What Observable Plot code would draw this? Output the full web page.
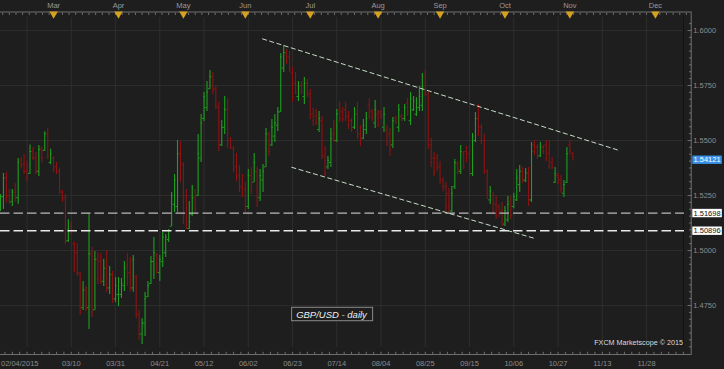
<!DOCTYPE html>
<html><head><meta charset="utf-8">
<script src="https://cdn.jsdelivr.net/npm/d3@7"></script>
<script src="https://cdn.jsdelivr.net/npm/@observablehq/plot@0.6"></script>
<style>html,body{margin:0;padding:0;background:#1e1e1e;overflow:hidden}</style>
</head><body><div id="chart"></div>
<script>
// Daily GBP/USD bars, one per trading day starting 02/04/2015 (bar index 0)
const opens = [
1.5190,1.5245,1.5330,1.5250,1.5222,1.5265,1.5240,1.5410,1.5390,1.5360,
1.5350,1.5450,1.5420,1.5360,1.5460,1.5455,1.5530,1.5400,1.5420,1.5380,
1.5360,1.5265,1.5240,1.5045,1.5110,1.5030,1.4990,1.4895,1.4740,1.4820,
1.4740,1.4985,1.4730,1.4960,1.4950,1.4860,1.4920,1.4830,1.4890,1.4780,
1.4800,1.4800,1.4840,1.4930,1.4900,1.4830,1.4880,1.4710,1.4620,1.4670,
1.4790,1.4850,1.4950,1.4980,1.4900,1.4950,1.4990,1.5050,1.5110,1.5210,
1.5200,1.5440,1.5390,1.5250,1.5100,1.5165,1.5240,1.5250,1.5420,1.5600,
1.5650,1.5735,1.5790,1.5735,1.5650,1.5480,1.5560,1.5640,1.5500,1.5465,
1.5380,1.5340,1.5290,1.5280,1.5200,1.5340,1.5310,1.5360,1.5240,1.5320,
1.5380,1.5530,1.5480,1.5520,1.5570,1.5630,1.5830,1.5900,1.5880,1.5810,
1.5760,1.5700,1.5750,1.5700,1.5760,1.5710,1.5620,1.5610,1.5550,1.5590,
1.5430,1.5380,1.5400,1.5530,1.5500,1.5640,1.5630,1.5640,1.5610,1.5590,
1.5560,1.5620,1.5530,1.5510,1.5550,1.5660,1.5630,1.5580,1.5620,1.5630,
1.5560,1.5550,1.5530,1.5480,1.5605,1.5560,1.5610,1.5600,1.5670,1.5590,
1.5640,1.5620,1.5650,1.5660,1.5790,1.5710,1.5480,1.5420,1.5420,1.5380,
1.5320,1.5290,1.5260,1.5180,1.5290,1.5395,1.5360,1.5440,1.5450,1.5440,
1.5350,1.5500,1.5600,1.5560,1.5500,1.5360,1.5230,1.5250,1.5210,1.5200,
1.5180,1.5120,1.5140,1.5220,1.5200,1.5230,1.5300,1.5360,1.5320,1.5350,
1.5230,1.5480,1.5470,1.5430,1.5470,1.5480,1.5440,1.5400,1.5310,1.5340,
1.5320,1.5260,1.5310,1.5480,1.5440];
const highs = [
1.5255,1.5350,1.5355,1.5277,1.5277,1.5305,1.5418,1.5423,1.5436,1.5405,
1.5480,1.5468,1.5445,1.5477,1.5470,1.5540,1.5555,1.5460,1.5427,1.5400,
1.5373,1.5273,1.5255,1.5140,1.5132,1.5040,1.5032,1.4900,1.4859,1.4836,
1.5168,1.5014,1.4995,1.4990,1.4986,1.4959,1.5000,1.4927,1.4905,1.4877,
1.4877,1.4873,1.4950,1.4986,1.4968,1.4977,1.4886,1.4727,1.4690,1.4809,
1.4859,1.4973,1.5059,1.4986,1.4977,1.5082,1.5073,1.5095,1.5264,1.5345,
1.5500,1.5495,1.5400,1.5277,1.5223,1.5295,1.5277,1.5527,1.5618,1.5718,
1.5768,1.5818,1.5809,1.5745,1.5673,1.5591,1.5700,1.5691,1.5514,1.5473,
1.5441,1.5386,1.5345,1.5309,1.5368,1.5377,1.5441,1.5377,1.5368,1.5391,
1.5555,1.5536,1.5595,1.5618,1.5650,1.5895,1.5930,1.5914,1.5905,1.5832,
1.5809,1.5768,1.5768,1.5786,1.5777,1.5732,1.5645,1.5641,1.5632,1.5609,
1.5473,1.5427,1.5555,1.5591,1.5641,1.5677,1.5650,1.5673,1.5632,1.5600,
1.5650,1.5673,1.5568,1.5595,1.5627,1.5691,1.5641,1.5682,1.5636,1.5636,
1.5650,1.5568,1.5555,1.5605,1.5609,1.5664,1.5618,1.5664,1.5691,1.5718,
1.5700,1.5695,1.5745,1.5805,1.5818,1.5723,1.5509,1.5445,1.5436,1.5405,
1.5332,1.5309,1.5282,1.5291,1.5414,1.5405,1.5477,1.5450,1.5473,1.5473,
1.5532,1.5627,1.5664,1.5573,1.5527,1.5368,1.5291,1.5264,1.5245,1.5209,
1.5218,1.5200,1.5245,1.5245,1.5260,1.5368,1.5386,1.5377,1.5373,1.5377,
1.5491,1.5500,1.5482,1.5491,1.5477,1.5500,1.5500,1.5423,1.5377,1.5350,
1.5341,1.5318,1.5468,1.5500,1.5445];
const lows = [
1.5177,1.5186,1.5218,1.5210,1.5200,1.5220,1.5210,1.5370,1.5345,1.5314,
1.5345,1.5410,1.5345,1.5336,1.5400,1.5450,1.5414,1.5390,1.5355,1.5345,
1.5255,1.5220,1.5027,1.5036,1.5073,1.4900,1.4882,1.4705,1.4727,1.4723,
1.4641,1.4695,1.4727,1.4845,1.4845,1.4836,1.4810,1.4800,1.4760,1.4764,
1.4745,1.4782,1.4814,1.4836,1.4814,1.4810,1.4690,1.4591,1.4573,1.4609,
1.4786,1.4845,1.4868,1.4891,1.4859,1.4923,1.4968,1.5036,1.5109,1.5173,
1.5173,1.5309,1.5118,1.5095,1.5095,1.5155,1.5173,1.5245,1.5400,1.5586,
1.5632,1.5732,1.5709,1.5641,1.5450,1.5473,1.5527,1.5464,1.5459,1.5355,
1.5314,1.5264,1.5241,1.5173,1.5186,1.5255,1.5309,1.5195,1.5223,1.5264,
1.5377,1.5427,1.5473,1.5491,1.5541,1.5627,1.5809,1.5845,1.5809,1.5673,
1.5709,1.5677,1.5709,1.5664,1.5695,1.5595,1.5564,1.5568,1.5536,1.5414,
1.5336,1.5368,1.5377,1.5491,1.5491,1.5582,1.5582,1.5586,1.5550,1.5536,
1.5550,1.5505,1.5473,1.5505,1.5527,1.5595,1.5586,1.5555,1.5559,1.5595,
1.5536,1.5473,1.5427,1.5464,1.5573,1.5536,1.5586,1.5586,1.5609,1.5568,
1.5632,1.5609,1.5632,1.5632,1.5700,1.5459,1.5377,1.5336,1.5359,1.5300,
1.5268,1.5173,1.5173,1.5173,1.5277,1.5345,1.5345,1.5368,1.5400,1.5336,
1.5336,1.5491,1.5518,1.5482,1.5345,1.5232,1.5209,1.5164,1.5141,1.5150,
1.5109,1.5109,1.5127,1.5141,1.5190,1.5223,1.5264,1.5305,1.5309,1.5200,
1.5218,1.5432,1.5414,1.5423,1.5436,1.5405,1.5368,1.5368,1.5305,1.5300,
1.5259,1.5241,1.5305,1.5436,1.5414];
const closes = [
1.5245,1.5330,1.5240,1.5222,1.5265,1.5240,1.5400,1.5390,1.5360,1.5330,
1.5450,1.5420,1.5360,1.5460,1.5420,1.5530,1.5430,1.5440,1.5370,1.5360,
1.5270,1.5235,1.5040,1.5100,1.5085,1.4920,1.4900,1.4720,1.4820,1.4735,
1.4985,1.4720,1.4960,1.4870,1.4880,1.4920,1.4830,1.4890,1.4780,1.4840,
1.4860,1.4850,1.4920,1.4880,1.4830,1.4960,1.4710,1.4620,1.4670,1.4780,
1.4840,1.4950,1.4990,1.4910,1.4960,1.5060,1.5060,1.5090,1.5250,1.5320,
1.5440,1.5340,1.5140,1.5120,1.5130,1.5240,1.5190,1.5440,1.5580,1.5700,
1.5720,1.5790,1.5730,1.5660,1.5480,1.5560,1.5640,1.5500,1.5470,1.5370,
1.5330,1.5280,1.5260,1.5200,1.5340,1.5270,1.5400,1.5270,1.5340,1.5360,
1.5530,1.5450,1.5560,1.5580,1.5630,1.5880,1.5900,1.5860,1.5830,1.5700,
1.5720,1.5745,1.5720,1.5760,1.5720,1.5610,1.5590,1.5580,1.5600,1.5430,
1.5350,1.5410,1.5510,1.5500,1.5620,1.5600,1.5600,1.5610,1.5570,1.5550,
1.5620,1.5520,1.5500,1.5570,1.5600,1.5610,1.5600,1.5640,1.5570,1.5610,
1.5620,1.5490,1.5460,1.5590,1.5585,1.5640,1.5595,1.5650,1.5630,1.5690,
1.5680,1.5670,1.5700,1.5745,1.5720,1.5480,1.5400,1.5360,1.5380,1.5320,
1.5290,1.5200,1.5200,1.5260,1.5400,1.5370,1.5450,1.5380,1.5420,1.5350,
1.5520,1.5600,1.5540,1.5500,1.5360,1.5260,1.5270,1.5180,1.5160,1.5170,
1.5130,1.5180,1.5210,1.5160,1.5245,1.5330,1.5360,1.5320,1.5355,1.5230,
1.5450,1.5450,1.5430,1.5470,1.5450,1.5420,1.5380,1.5380,1.5350,1.5310,
1.5280,1.5300,1.5440,1.5450,1.5412];

// Axis labels (positions are bar indices; after the last bar one bar = one calendar day)
const monthLabels = ["Mar","Apr","May","Jun","Jul","Aug","Sep","Oct","Nov","Dec"];
const monthBars   = [18, 40, 62, 83, 105, 128, 149, 171, 193, 222];
const dateLabels = ["02/04/2015","03/10","03/31","04/21","05/12","06/02","06/23","07/14","08/04","08/25","09/15","10/06","10/27","11/13","11/28"];
const dateBars   = [0, 24, 39, 54, 69, 84, 99, 114, 129, 144, 159, 174, 189, 204, 219];
const gridBars   = [9, 24, 39, 54, 69, 84, 99, 114, 129, 144, 159, 174, 189, 204, 219];
const priceTicks = [1.475, 1.5, 1.525, 1.55, 1.575, 1.6];

// Horizontal levels and current price
const levelPrices = [1.51698, 1.50896];
const levelColors = ["#b9b9b9", "#e8e8e8"];
const lastPrice = 1.54121;

// Channel trend lines (bar index, price)
const trendBarFrom   = [88.7, 98.6];
const trendPriceFrom = [1.59623, 1.53786];
const trendBarTo     = [209.8, 180.8];
const trendPriceTo   = [1.54545, 1.50559];

const seriesTitle = "GBP/USD - daily";
const credit = "FXCM Marketscope \u00a9 2015";

const BG = "#1e1e1e", GRID = "#2e2e2e", AXIS = "#6e6e6e";
const GREEN = "#1ea01e", RED = "#8e1212";
const FONT = "'Liberation Sans', Arial, sans-serif";

const bars = highs.map((h, i) => ({i, open: opens[i], high: h, low: lows[i], close: closes[i]}));
const up = bars.filter(d => d.close >= d.open);
const down = bars.filter(d => d.close < d.open);

const bottomMinor = d3.range(1.5, 234, 2.5);
const topMinor = d3.range(0.75, 234, 2.25);
const priceMinor = d3.range(-7, 43).map(k => 1.475 + k * 0.003125);

const barMarks = (set, color) => [
  Plot.ruleX(set, {x: "i", y1: "low", y2: "high", stroke: color, strokeWidth: 1.1}),
  Plot.ruleY(set, {x1: d => d.i - 0.5, x2: d => d.i, y: "open", stroke: color, strokeWidth: 1}),
  Plot.ruleY(set, {x1: d => d.i, x2: d => d.i + 0.5, y: "close", stroke: color, strokeWidth: 1})
];

const tag = name => () => name;

const chart = Plot.plot({
  width: 724, height: 369,
  marginLeft: 0, marginRight: 40, marginTop: 17, marginBottom: 22,
  style: {background: BG, color: "#8c8c8c", fontFamily: FONT, fontSize: "7.5px", overflow: "visible"},
  x: {type: "linear", domain: [0, 231.86], label: null},
  y: {type: "linear", domain: [1.455909, 1.605909], label: null},
  marks: [
    Plot.gridX(gridBars, {stroke: GRID, strokeOpacity: 1}),
    Plot.gridY(priceTicks, {stroke: GRID, strokeOpacity: 1}),
    Plot.ruleX([231.86], {stroke: "#121212", dx: -1}),
    Plot.frame({stroke: AXIS, insetTop: -5.5, insetRight: -6.7, insetBottom: -7, insetLeft: -3}),
    // top axis
    Plot.axisX(topMinor, {anchor: "top", label: null, tickSize: 2.5, dy: -3, fill: "none", stroke: AXIS}),
    Plot.axisX(monthBars, {anchor: "top", label: null, tickSize: 0, tickPadding: 9.5, tickFormat: d => monthLabels[monthBars.indexOf(d)], fill: "#9a9a9a", fontSize: 7.5}),
    Plot.dotX(monthBars, {x: d => d, frameAnchor: "top", dy: -3.6, symbol: "triangle", rotate: 180, r: 3.1, fill: "#d6a11e", stroke: "none"}),
    // bottom axis
    Plot.axisX(bottomMinor, {anchor: "bottom", label: null, tickSize: 2.7, dy: 4.8, fill: "none", stroke: AXIS}),
    Plot.axisX(dateBars.slice(1), {anchor: "bottom", label: null, tickSize: 0, tickPadding: 13, tickFormat: d => dateLabels[dateBars.indexOf(d)], fill: "#8c8c8c", fontSize: 7.5}),
    Plot.text([dateLabels[0]], {x: () => dateBars[0], frameAnchor: "bottom", textAnchor: "start", lineAnchor: "top", dy: 13, dx: 0.5, fill: "#8c8c8c", fontSize: 7.5}),
    // right axis
    Plot.axisY(priceMinor.filter(v => v > 1.4562 && v < 1.6057), {anchor: "right", label: null, tickSize: 2.7, dx: 4, fill: "none", stroke: AXIS}),
    Plot.axisY(priceTicks, {anchor: "right", label: null, tickSize: 4.2, dx: 2.5, tickPadding: 2, tickFormat: d3.format(".4f"), fill: "#8c8c8c", stroke: AXIS, fontSize: 7.5}),
    // price bars
    ...barMarks(down, RED),
    ...barMarks(up, GREEN),
    // levels
    ...levelPrices.map((p, i) => Plot.ruleY([p], {stroke: levelColors[i], strokeWidth: 1.4, strokeDasharray: "9.5,4"})),
    // channel lines
    Plot.link(trendBarFrom.map((_, i) => i), {
      x1: i => trendBarFrom[i], y1: i => trendPriceFrom[i],
      x2: i => trendBarTo[i], y2: i => trendPriceTo[i],
      stroke: "#c6dcc6", strokeWidth: 1, strokeDasharray: "5,2.5"
    }),
    // tags
    ...levelPrices.map(p => Plot.text([p], {y: d => d, text: d => d.toFixed(5), frameAnchor: "right", dx: 9, textAnchor: "start", fill: "#111", fontSize: 7.5, ariaLabel: tag("tag-white")})),
    Plot.text([lastPrice], {y: d => d, text: d => d.toFixed(5), frameAnchor: "right", dx: 9, textAnchor: "start", fill: "#ffffff", fontSize: 7.5, ariaLabel: tag("tag-blue")}),
    Plot.text([seriesTitle], {frameAnchor: "bottom", dx: -11, dy: -30, fill: "#eeeeee", fontStyle: "italic", fontSize: 9.5, ariaLabel: tag("series-tag")}),
    Plot.text([credit], {frameAnchor: "bottom-right", textAnchor: "end", dx: -1.5, dy: -3, fill: "#dcdcdc", fontSize: 7.2})
  ]
});

document.getElementById("chart").append(chart);

function boxBehind(label, fill, stroke, padX, padY) {
  chart.querySelectorAll(`text[aria-label="${label}"]`).forEach(t => {
    const b = t.getBBox();
    const r = document.createElementNS("http://www.w3.org/2000/svg", "rect");
    r.setAttribute("x", b.x - padX);
    r.setAttribute("y", b.y - padY);
    r.setAttribute("width", b.width + 2 * padX);
    r.setAttribute("height", b.height + 2 * padY);
    r.setAttribute("fill", fill);
    if (stroke) { r.setAttribute("stroke", stroke); r.setAttribute("stroke-width", 1); }
    else r.setAttribute("stroke", "none");
    const tr = t.getAttribute("transform");
    if (tr) r.setAttribute("transform", tr);
    t.parentNode.insertBefore(r, t);
  });
}
boxBehind("tag-white", "#ffffff", null, 1.2, -0.3);
boxBehind("tag-blue", "#3a8fe6", null, 1.2, -0.3);
boxBehind("series-tag", BG, "#8a8a8a", 4.5, 1.2);
</script>
</body></html>
